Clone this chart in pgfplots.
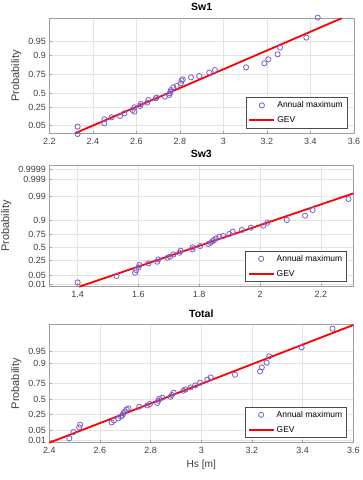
\documentclass[border=0pt]{standalone}
\usepackage{fontspec}
\setmainfont{Liberation Sans}
\usepackage{pgfplots}
\pgfplotsset{compat=1.18}
\definecolor{mkc}{RGB}{125,95,200}
\definecolor{tk}{RGB}{64,64,64}
\pgfplotsset{
  myax/.style={
    scale only axis,
    clip=false,
    xmajorgrids, ymajorgrids,
    grid style={gray!22, line width=0.5bp},
    axis line style={gray!75, line width=0.5bp},
    tick style={gray!75, line width=0.5bp},
    tick align=inside,
    major tick length=2.5bp,
    xtick pos=bottom, ytick pos=left,
    ticklabel style={font=\fontsize{9}{10}\selectfont, text=tk},
    /pgf/number format/assume math mode=true,
    xticklabel style={yshift=-1bp},
    ylabel={Probability},
    ylabel style={font=\fontsize{11}{12}\selectfont, text=tk},
    xlabel style={font=\fontsize{10.2}{11}\selectfont, text=tk},
    title style={font=\bfseries\fontsize{10.5}{12}\selectfont, yshift=-2bp},
    legend cell align=left,
    legend style={at={(1,0)}, anchor=south east, xshift=-7bp, yshift=5bp,
      draw=gray!60!black, line width=0.4bp, fill=white,
      font=\fontsize{8.5}{9.5}\selectfont, inner xsep=2bp, inner ysep=2bp,
      row sep=3.5bp},
  },
  datpl/.style={only marks, mark=o, mark size=2.6bp, mkc, mark options={line width=0.8bp},
    legend image code/.code={\draw[mkc, line width=0.8bp] (12.5bp,0bp) circle (2.6bp);}},
  gevpl/.style={red, line width=1.8bp, no marks,
    legend image code/.code={\draw[red, line width=2bp] (0bp,0.25bp) -- (25bp,0.25bp);}},
}
\begin{document}
\begin{tikzpicture}
\useasboundingbox (0,0) rectangle (363bp,-480bp);
% ---------------- Sw1
\begin{axis}[myax, at={(49.3bp,-133.3bp)}, anchor=south west,
  width=304.7bp, height=115bp,
  xmin=2.2, xmax=3.6, ymin=0, ymax=115,
  xtick={2.2,2.4,2.6,2.8,3,3.2,3.4,3.6},
  ytick={8,25.7,40,59,78.3,91.7},
  yticklabels={0.05,0.25,0.5,0.75,0.9,0.95},
  title={Sw1}]
\addplot[datpl] coordinates {
(2.330,6.7) (2.330,-0.7) (2.453,14) (2.453,10) (2.486,16) (2.525,17.3) (2.545,20)
(2.583,23.3) (2.591,26) (2.591,21.7) (2.617,27.3) (2.620,29.3) (2.650,30.7) (2.655,33.3)
(2.690,35) (2.693,35.7) (2.731,36.7) (2.751,38.3) (2.754,40) (2.757,41.7) (2.759,43.3)
(2.770,46) (2.785,47.3) (2.805,50) (2.808,52.7) (2.813,54) (2.851,56) (2.889,57.3)
(2.935,60.7) (2.961,63.3) (3.104,66) (3.188,70) (3.206,74) (3.249,79) (3.260,85.7)
(3.381,95.7) (3.433,115.7)};
\addlegendentry{Annual maximum}
\addplot[gevpl] coordinates {(2.318,0) (3.543,115)};
\addlegendentry{GEV}
\end{axis}
% ---------------- Sw3
\begin{axis}[myax, at={(49.3bp,-286.7bp)}, anchor=south west,
  width=304bp, height=121.7bp,
  xmin=1.3067, xmax=2.307, ymin=0, ymax=121.7,
  xtick={1.4,1.6,1.8,2,2.2},
  ytick={2,11.7,26.3,39.7,52,66.7,90.3,107,117},
  yticklabels={0.01,0.05,0.25,0.5,0.75,0.9,0.99,0.999,0.9999},
  title={Sw3}]
\addplot[datpl] coordinates {
(1.400,4.3) (1.528,10.7) (1.589,14) (1.592,16.7) (1.600,19.3) (1.603,21.7) (1.633,23.3)
(1.662,25) (1.665,27.3) (1.696,29) (1.704,30) (1.715,32.3) (1.735,34) (1.739,36)
(1.778,37.3) (1.778,39.3) (1.803,40.7) (1.830,42.7) (1.838,44) (1.844,45.7) (1.849,46.7)
(1.855,48.3) (1.866,50) (1.879,50.7) (1.899,52.7) (1.910,55) (1.940,56.7) (1.970,59)
(2.011,61) (2.024,64) (2.088,66.7) (2.148,71) (2.173,76.7) (2.291,87.7)};
\addlegendentry{Annual maximum}
\addplot[gevpl] coordinates {(1.405,0) (2.307,93.3)};
\addlegendentry{GEV}
\end{axis}
% ---------------- Total
\begin{axis}[myax, at={(49.3bp,-442.7bp)}, anchor=south west,
  width=304bp, height=118bp,
  xmin=2.4, xmax=3.6, ymin=0, ymax=118,
  xtick={2.4,2.6,2.8,3,3.2,3.4,3.6},
  ytick={2.5,12.5,28,43.7,59.7,79.2,91.2},
  yticklabels={0.01,0.05,0.25,0.5,0.75,0.9,0.95},
  xlabel={Hs [m]},
  title={Total}]
\addplot[datpl] coordinates {
(2.479,4.3) (2.495,10.7) (2.518,15.3) (2.522,18) (2.646,20.3) (2.655,22.3) (2.672,24.3)
(2.683,26) (2.689,27.7) (2.693,29.7) (2.699,31.3) (2.705,33.3) (2.713,34.3) (2.755,36)
(2.787,37.3) (2.797,38.7) (2.826,39.7) (2.830,42) (2.834,44) (2.846,45) (2.879,46)
(2.884,47.7) (2.891,50) (2.929,52) (2.938,53.3) (2.958,55.3) (2.976,57.3) (2.995,60)
(3.024,63) (3.037,65.3) (3.133,68) (3.232,71.3) (3.239,75.3) (3.258,80) (3.268,86.3)
(3.396,95.3) (3.518,114)};
\addlegendentry{Annual maximum}
\addplot[gevpl] coordinates {(2.4,0) (3.6,117.7)};
\addlegendentry{GEV}
\end{axis}
\end{tikzpicture}
\end{document}
